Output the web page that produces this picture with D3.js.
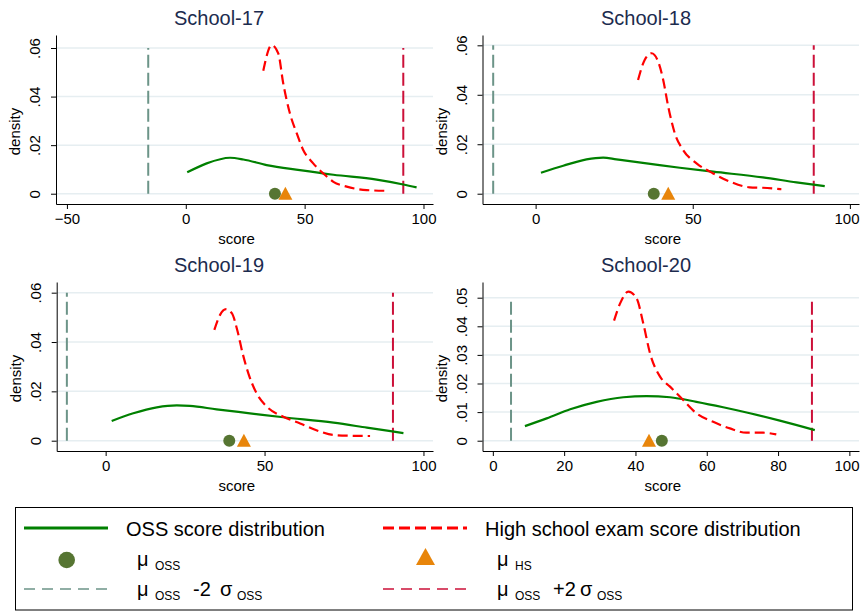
<!DOCTYPE html>
<html>
<head>
<meta charset="utf-8">
<script src="https://cdn.jsdelivr.net/npm/d3@7"></script>
<style>
  body { margin: 0; background: #fff; }
  svg { font-family: Arial, "Liberation Sans", sans-serif; }
</style>
</head>
<body>
<div id="chart"></div>
<script>
// data
var schools = ["School-17", "School-18", "School-19", "School-20"];

var ossScore = [
  [0.6, 8.8, 18.6, 24.2, 34.0, 48.0, 62.1, 80.3, 91.5, 97.1],
  [1.7, 8.8, 16.2, 21.5, 25.7, 35.3, 45.9, 56.5, 72.3, 83.0, 92.0],
  [1.9, 8.7, 16.1, 22.4, 26.5, 34.9, 45.4, 55.9, 71.7, 82.2, 93.7],
  [9.0, 15.1, 21.7, 29.1, 36.6, 43.1, 49.7, 57.1, 64.6, 72.1, 80.5, 90.3]
];
var ossDensity = [
  [0.0088, 0.0125, 0.0148, 0.0141, 0.0118, 0.0097, 0.0078, 0.0058, 0.0038, 0.0026],
  [0.0085, 0.0113, 0.0139, 0.0146, 0.0139, 0.0123, 0.0105, 0.0089, 0.0066, 0.0046, 0.0031],
  [0.0080, 0.0111, 0.0135, 0.0143, 0.0141, 0.0127, 0.0111, 0.0095, 0.0073, 0.0053, 0.0031],
  [0.0051, 0.0078, 0.0110, 0.0136, 0.0152, 0.0156, 0.0152, 0.0136, 0.0117, 0.0096, 0.0070, 0.0037]
];

var hsScore = [
  [32.6, 36.1, 38.9, 41.0, 43.8, 46.7, 49.4, 53.6, 57.8, 62.1, 67.7, 76.1, 84.5],
  [32.6, 34.7, 36.9, 39.0, 40.6, 42.2, 44.3, 46.9, 51.2, 56.5, 61.8, 68.1, 72.3, 78.2],
  [34.2, 36.0, 37.9, 39.7, 41.4, 43.1, 44.9, 47.5, 50.7, 55.9, 61.2, 67.5, 71.7, 76.9, 83.2],
  [34.0, 35.7, 38.0, 40.3, 42.2, 44.1, 46.9, 49.7, 53.4, 57.1, 61.8, 66.5, 71.1, 75.8, 79.5]
];
var hsDensity = [
  [0.0506, 0.0612, 0.0578, 0.0454, 0.0331, 0.0248, 0.0180, 0.0125, 0.0084, 0.0049, 0.0029, 0.0015, 0.0012],
  [0.0460, 0.0541, 0.0568, 0.0534, 0.0460, 0.0352, 0.0244, 0.0177, 0.0123, 0.0082, 0.0049, 0.0026, 0.0024, 0.0018],
  [0.0449, 0.0510, 0.0533, 0.0517, 0.0449, 0.0354, 0.0273, 0.0192, 0.0138, 0.0097, 0.0070, 0.0037, 0.0023, 0.0020, 0.0019],
  [0.0420, 0.0480, 0.0521, 0.0498, 0.0410, 0.0305, 0.0224, 0.0189, 0.0142, 0.0096, 0.0066, 0.0043, 0.0028, 0.0028, 0.0022]
];

var muOss = [37.5, 37.6, 38.9, 47.4];
var muHs = [41.9, 42.2, 43.5, 43.8];
var lowerBand = [-15.8, -13.5, -12.2, 5.1];   // mu_oss - 2 sigma_oss
var upperBand = [91.5, 88.5, 90.4, 89.5];     // mu_oss + 2 sigma_oss

var xDomains = [[-54.6, 104], [-16.9, 102.9], [-15.4, 103], [-2.9, 102.7]];
var yDomains = [[-0.00424, 0.06536], [-0.00416, 0.06417], [-0.00418, 0.06433], [-0.0036, 0.05549]];
var xTicks = [[-50, 0, 50, 100], [0, 50, 100], [0, 50, 100], [0, 20, 40, 60, 80, 100]];
var yTicks = [[0, 0.02, 0.04, 0.06], [0, 0.02, 0.04, 0.06], [0, 0.02, 0.04, 0.06], [0, 0.01, 0.02, 0.03, 0.04, 0.05]];
var yTickLabels = [["0", ".02", ".04", ".06"], ["0", ".02", ".04", ".06"], ["0", ".02", ".04", ".06"], ["0", ".01", ".02", ".03", ".04", ".05"]];

// layout
var svgWidth = 860, svgHeight = 612;
var boxes = [
  {x0: 56, x1: 433, y0: 35, y1: 204, titleX: 219, titleY: 25},
  {x0: 482.5, x1: 859, y0: 35, y1: 204, titleX: 646, titleY: 25},
  {x0: 56.7, x1: 433, y0: 282, y1: 451, titleX: 219, titleY: 272},
  {x0: 482.5, x1: 859, y0: 282, y1: 451, titleX: 646, titleY: 272}
];

var col = {
  oss: "#008000", hs: "#ff0000", dot: "#567532", tri: "#e8850a",
  low: "#6c9488", high: "#cc1039", grid: "#e6eef1", title: "#1c2b4e"
};

var svg = d3.select("#chart").append("svg")
  .attr("width", svgWidth)
  .attr("height", svgHeight);

schools.forEach(function(name, i) {
  var b = boxes[i];
  var x = d3.scaleLinear().domain(xDomains[i]).range([b.x0, b.x1]);
  var y = d3.scaleLinear().domain(yDomains[i]).range([b.y1, b.y0]);
  var g = svg.append("g");

  // gridlines
  g.selectAll(".grid").data(yTicks[i]).enter().append("line")
    .attr("x1", b.x0).attr("x2", b.x1)
    .attr("y1", d => y(d)).attr("y2", d => y(d))
    .attr("stroke", col.grid).attr("stroke-width", 1.5);

  // axes
  var xAxis = d3.axisBottom(x).tickValues(xTicks[i]).tickSize(5).tickSizeOuter(0);
  var gx = g.append("g").attr("transform", `translate(0,${b.y1})`).call(xAxis);
  gx.select(".domain").attr("stroke", "#000");
  gx.selectAll(".tick line").attr("stroke", "#000");
  gx.selectAll(".tick text").attr("font-size", 15).attr("fill", "#000").attr("y", 9)
    .each(function(d) {
      // keep edge labels inside the page
      var over = x(d) + this.getComputedTextLength() / 2 - (svgWidth - 1);
      if (over > 0) d3.select(this).attr("dx", -over);
    });

  var yAxis = d3.axisLeft(y).tickValues(yTicks[i]).tickSize(5).tickSizeOuter(0)
    .tickFormat((d, k) => yTickLabels[i][k]);
  var gy = g.append("g").attr("transform", `translate(${b.x0},0)`).call(yAxis);
  gy.select(".domain").attr("stroke", "#000");
  gy.selectAll(".tick line").attr("stroke", "#000");
  gy.selectAll(".tick text")
    .attr("font-size", 15).attr("fill", "#000")
    .attr("text-anchor", "middle")
    .attr("transform", "rotate(-90)")
    .attr("x", 0).attr("y", -21).attr("dy", "0.35em");

  // axis titles
  g.append("text")
    .attr("x", (b.x0 + b.x1) / 2 - 8).attr("y", b.y1 + 40)
    .attr("text-anchor", "middle").attr("font-size", 15)
    .text("score");
  g.append("text")
    .attr("transform", `translate(${b.x0 - 36},${(b.y0 + b.y1) / 2 + 12}) rotate(-90)`)
    .attr("text-anchor", "middle").attr("font-size", 15)
    .text("density");

  // title
  g.append("text")
    .attr("x", b.titleX).attr("y", b.titleY)
    .attr("text-anchor", "middle").attr("font-size", 20)
    .attr("fill", col.title)
    .text(name);

  // mean +/- 2 sd lines, from 0 to the top tick
  var topTick = d3.max(yTicks[i]);
  g.append("line")
    .attr("x1", x(lowerBand[i])).attr("x2", x(lowerBand[i]))
    .attr("y1", y(0)).attr("y2", y(topTick))
    .attr("stroke", col.low).attr("stroke-width", 2)
    .attr("stroke-dasharray", "13,5");
  g.append("line")
    .attr("x1", x(upperBand[i])).attr("x2", x(upperBand[i]))
    .attr("y1", y(0)).attr("y2", y(topTick))
    .attr("stroke", col.high).attr("stroke-width", 2)
    .attr("stroke-dasharray", "13,5");

  // density curves
  var line = d3.line()
    .x(d => x(d[0])).y(d => y(d[1]))
    .curve(d3.curveMonotoneX);
  g.append("path")
    .datum(d3.zip(ossScore[i], ossDensity[i]))
    .attr("d", line)
    .attr("fill", "none").attr("stroke", col.oss).attr("stroke-width", 2.2);
  g.append("path")
    .datum(d3.zip(hsScore[i], hsDensity[i]))
    .attr("d", line)
    .attr("fill", "none").attr("stroke", col.hs).attr("stroke-width", 2.2)
    .attr("stroke-dasharray", "10,5");

  // means
  var cx = x(muOss[i]), tx = x(muHs[i]), y0 = y(0);
  g.append("circle")
    .attr("cx", cx).attr("cy", y0).attr("r", 6)
    .attr("fill", col.dot);
  g.append("path")
    .attr("d", `M${tx - 7},${y0 + 6}L${tx + 7},${y0 + 6}L${tx},${y0 - 7}Z`)
    .attr("fill", col.tri);
});

// legend
var leg = svg.append("g");
leg.append("rect")
  .attr("x", 15.5).attr("y", 507.5).attr("width", 837).attr("height", 102.5)
  .attr("fill", "none").attr("stroke", "#000").attr("stroke-width", 1);

leg.append("line").attr("x1", 24).attr("x2", 108).attr("y1", 528).attr("y2", 528)
  .attr("stroke", col.oss).attr("stroke-width", 2.8);
leg.append("text").attr("x", 126).attr("y", 536).attr("font-size", 20)
  .text("OSS score distribution");

leg.append("line").attr("x1", 383).attr("x2", 467).attr("y1", 528).attr("y2", 528)
  .attr("stroke", col.hs).attr("stroke-width", 2.8).attr("stroke-dasharray", "11,5");
leg.append("text").attr("x", 485).attr("y", 536).attr("font-size", 20)
  .text("High school exam score distribution");

leg.append("circle").attr("cx", 66.7).attr("cy", 560).attr("r", 8.3).attr("fill", col.dot);
leg.append("path").attr("d", "M416,565L435,565L425.5,548Z").attr("fill", col.tri);

leg.append("line").attr("x1", 24).attr("x2", 108).attr("y1", 589).attr("y2", 589)
  .attr("stroke", col.low).attr("stroke-width", 1.5).attr("stroke-dasharray", "11,7");
leg.append("line").attr("x1", 383).attr("x2", 467).attr("y1", 589).attr("y2", 589)
  .attr("stroke", col.high).attr("stroke-width", 1.5).attr("stroke-dasharray", "11,7");

function muLabel(x0, yb, sub, tail) {
  var t = leg.append("text").attr("y", yb).attr("font-size", 20);
  t.append("tspan").attr("x", x0).text("\u03bc");
  t.append("tspan").attr("x", x0 + 18).attr("dy", 4).attr("font-size", 12).text(sub);
  if (tail) {
    t.append("tspan").attr("x", x0 + 56).attr("dy", -4).text(tail);
    t.append("tspan").attr("x", x0 + 83).text("\u03c3");
    t.append("tspan").attr("x", x0 + 100).attr("dy", 4).attr("font-size", 12).text("OSS");
  }
}
muLabel(137, 566, "OSS");
muLabel(497, 566, "HS");
muLabel(137, 596, "OSS", "-2");
muLabel(497, 596, "OSS", "+2");
</script>
</body>
</html>
